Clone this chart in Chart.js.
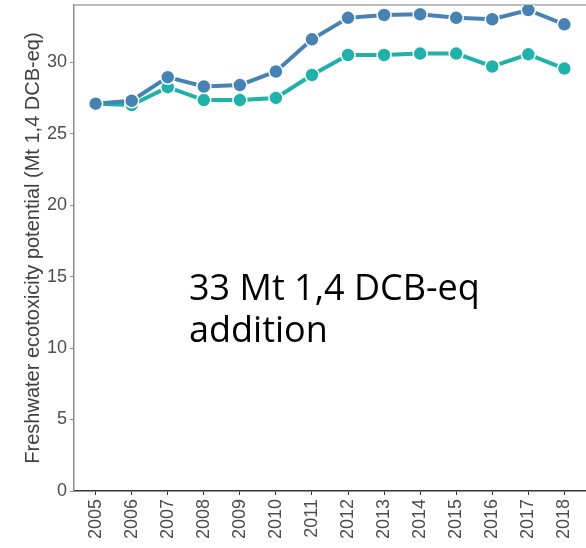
<!DOCTYPE html>
<html>
<head>
<meta charset="utf-8">
<script src="https://cdn.jsdelivr.net/npm/chart.js@4"></script>
<style>
  html, body { margin: 0; padding: 0; background: #fff; }
  canvas { display: block; }
</style>
</head>
<body>
<canvas id="chart" width="586" height="548"></canvas>
<script>
// values
const years = ['2005', '2006', '2007', '2008', '2009', '2010', '2011', '2012', '2013', '2014', '2015', '2016', '2017', '2018'];
const totalWithAddition = [27.1, 27.3, 28.95, 28.3, 28.4, 29.35, 31.6, 33.1, 33.3, 33.35, 33.1, 33.0, 33.65, 32.65];
const baseline = [27.1, 27.0, 28.25, 27.35, 27.35, 27.5, 29.1, 30.5, 30.5, 30.6, 30.6, 29.7, 30.55, 29.55];
const yTicks = [0, 5, 10, 15, 20, 25, 30];
const annotationLines = ['33 Mt 1,4 DCB-eq', 'addition'];

const tickFont = { family: 'Liberation Sans', size: 18 };
const titleFont = { family: 'Liberation Sans', size: 20 };

function toPoints(values) {
  return values.map((v, i) => ({ x: i, y: v }));
}

// drop the label overhang padding so the plot box sits where the reference has it
function noOverhang(axis) {
  axis.paddingTop = 0;
  axis.paddingBottom = 0;
  axis.paddingLeft = 0;
  axis.paddingRight = 0;
}

// top border line + the big note inside the plot
const extras = {
  id: 'extras',
  beforeDatasetsDraw(chart) {
    const { ctx, chartArea } = chart;
    ctx.save();
    ctx.strokeStyle = '#a6a6a6';
    ctx.lineWidth = 1.5;
    ctx.beginPath();
    ctx.moveTo(chartArea.left, chartArea.top);
    ctx.lineTo(chartArea.right, chartArea.top);
    ctx.stroke();
    ctx.restore();
  },
  afterDatasetsDraw(chart) {
    const { ctx } = chart;
    ctx.save();
    ctx.fillStyle = '#000';
    ctx.font = '36px "Open Sans"';
    ctx.textAlign = 'left';
    ctx.textBaseline = 'alphabetic';
    annotationLines.forEach((line, i) => {
      ctx.fillText(line, 189, 300 + i * 42);
    });
    ctx.restore();
  }
};

new Chart(document.getElementById('chart'), {
  type: 'line',
  data: {
    datasets: [
      {
        label: 'With addition',
        data: toPoints(totalWithAddition),
        borderColor: '#4682b4',
        backgroundColor: '#4682b4',
        borderWidth: 4,
        pointRadius: 7,
        pointBorderColor: '#ffffff',
        pointBorderWidth: 1.5,
        pointBackgroundColor: '#4682b4',
        tension: 0
      },
      {
        label: 'Baseline',
        data: toPoints(baseline),
        borderColor: '#20b2aa',
        backgroundColor: '#20b2aa',
        borderWidth: 4,
        pointRadius: 7,
        pointBorderColor: '#ffffff',
        pointBorderWidth: 1.5,
        pointBackgroundColor: '#20b2aa',
        tension: 0
      }
    ]
  },
  options: {
    responsive: false,
    animation: false,
    layout: { autoPadding: false, padding: { top: 5, right: 0, left: 0, bottom: 0 } },
    plugins: {
      legend: { display: false },
      tooltip: { enabled: false }
    },
    scales: {
      x: {
        type: 'linear',
        min: -0.6,
        max: 13.6,
        afterBuildTicks: axis => { axis.ticks = years.map((y, i) => ({ value: i })); },
        afterFit: axis => { axis.height = 57; noOverhang(axis); },
        border: { display: true, color: '#333333', width: 1.5 },
        grid: { display: true, drawOnChartArea: false, drawTicks: true, tickLength: 4, color: '#333333', lineWidth: 1 },
        ticks: {
          minRotation: 90,
          maxRotation: 90,
          autoSkip: false,
          padding: 4,
          font: tickFont,
          color: '#4d4d4d',
          callback: v => years[v]
        }
      },
      y: {
        min: 0,
        max: 34,
        afterBuildTicks: axis => { axis.ticks = yTicks.map(v => ({ value: v })); },
        afterFit: axis => { axis.width = 74; noOverhang(axis); },
        border: { display: true, color: '#8c8c8c', width: 1.5 },
        grid: { display: true, drawOnChartArea: false, drawTicks: true, tickLength: 4, color: '#8c8c8c', lineWidth: 1 },
        ticks: {
          padding: 3,
          font: tickFont,
          color: '#4d4d4d'
        },
        title: {
          display: true,
          text: 'Freshwater ecotoxicity potential (Mt 1,4 DCB-eq)',
          font: titleFont,
          color: '#404040',
          padding: { top: 21, bottom: 0 }
        }
      }
    }
  },
  plugins: [extras]
});
</script>
</body>
</html>
